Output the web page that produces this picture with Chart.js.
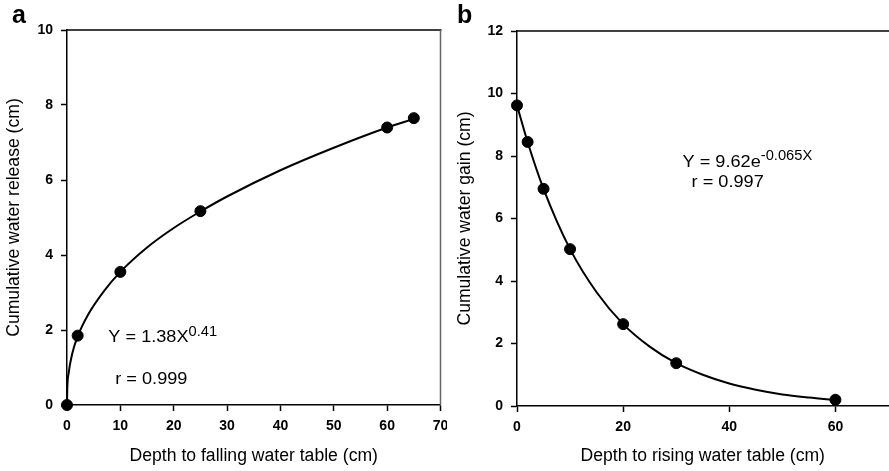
<!DOCTYPE html>
<html>
<head>
<meta charset="utf-8">
<script src="https://cdn.jsdelivr.net/npm/chart.js@4/dist/chart.umd.min.js"></script>
<style>
  html, body { margin: 0; padding: 0; background: #fff; overflow: hidden; width: 889px; height: 471px; }
  canvas { position: absolute; top: 0; }
  #chartA { left: 0; }
  #chartB { left: 445px; }
</style>
</head>
<body>
<canvas id="chartA" width="447" height="471"></canvas>
<canvas id="chartB" width="450" height="471"></canvas>
<script>
// panel a - falling water table
var depthFalling = [0, 2, 10, 25, 60, 65];
var waterRelease = [0, 1.85, 3.55, 5.17, 7.4, 7.65];
// fitted line
var fitFallingX = [0, 0.05, 0.3, 1, 2, 4, 7, 10, 15, 20, 25, 30, 40, 50, 60, 65];
var fitFallingY = [0, 0.42, 0.84, 1.38, 1.83, 2.42, 3.05, 3.55, 4.2, 4.72, 5.16, 5.56, 6.26, 6.86, 7.4, 7.63];

// panel b - rising water table
var depthRising = [0, 2, 5, 10, 20, 30, 60];
var waterGain = [9.62, 8.45, 6.95, 5.02, 2.62, 1.37, 0.2];
var fitRisingX = [0, 2, 5, 10, 15, 20, 25, 30, 35, 40, 45, 50, 55, 60];
var fitRisingY = [9.62, 8.45, 6.95, 5.02, 3.64, 2.62, 1.9, 1.37, 1.0, 0.72, 0.52, 0.37, 0.27, 0.19];

var xTicksA = [0, 10, 20, 30, 40, 50, 60, 70];
var yTicksA = [0, 2, 4, 6, 8, 10];
var xTicksB = [0, 20, 40, 60];
var yTicksB = [0, 2, 4, 6, 8, 10, 12];

var FONT = "'Liberation Sans', Arial, sans-serif";

function toPoints(xs, ys) {
    var out = [];
    for (var i = 0; i < xs.length; i++) out.push({x: xs[i], y: ys[i]});
    return out;
}

// text a bit wider than the font, like the scanned figure
function wideText(ctx, text, x, y, size, stretch) {
    ctx.save();
    ctx.font = size + 'px ' + FONT;
    ctx.translate(x, y);
    ctx.scale(stretch, 1);
    ctx.fillText(text, 0, 0);
    var w = ctx.measureText(text).width * stretch;
    ctx.restore();
    return w;
}

// draws the frame lines, the panel letter and the fit equation
var decorPlugin = {
    id: 'decor',
    afterDraw: function (chart, args, opts) {
        var ctx = chart.ctx;
        var area = chart.chartArea;
        var sx = chart.scales.x, sy = chart.scales.y;
        ctx.save();
        ctx.lineWidth = 1.5;
        ctx.strokeStyle = '#000';
        ctx.beginPath();
        ctx.moveTo(area.left, area.top);
        ctx.lineTo(area.right + 1, area.top);
        ctx.stroke();
        if (opts.rightBorder) {
            ctx.strokeStyle = '#666';
            ctx.beginPath();
            ctx.moveTo(area.right, area.top);
            ctx.lineTo(area.right, area.bottom);
            ctx.stroke();
        }
        ctx.fillStyle = '#000';
        ctx.font = 'bold 25px ' + FONT;
        ctx.textBaseline = 'alphabetic';
        ctx.fillText(opts.letter, 12, 23);

        ctx.textBaseline = 'middle';
        var ex = sx.getPixelForValue(opts.eqAt[0]);
        var ey = sy.getPixelForValue(opts.eqAt[1]);
        var w = wideText(ctx, opts.eqMain, ex, ey, 16.5, 1.1);
        wideText(ctx, opts.eqSup, ex + w, ey - 6, 14, 1.05);
        wideText(ctx, opts.rText, sx.getPixelForValue(opts.rAt[0]), sy.getPixelForValue(opts.rAt[1]), 16.5, 1.1);
        ctx.restore();
    }
};

function axisOpts(min, max, step, tickList, title, fitSize, titlePad, isX, showBounds) {
    return {
        type: 'linear',
        min: min,
        max: max,
        afterFit: function (scale) {
            if (isX) {
                scale.height = fitSize;
                scale.paddingRight = 0;
                scale.paddingLeft = 0;
            } else {
                scale.width = fitSize;
            }
        },
        afterBuildTicks: function (scale) {
            scale.ticks = tickList.map(function (v) { return {value: v}; });
        },
        grid: {
            drawOnChartArea: false,
            drawTicks: true,
            tickLength: 6,
            tickWidth: 1.5,
            tickColor: '#000'
        },
        border: { display: true, color: '#000', width: 1.5 },
        ticks: {
            stepSize: step,
            includeBounds: showBounds,
            color: '#000',
            padding: isX ? 7 : 8,
            maxRotation: 0,
            font: { family: FONT, size: 14, weight: 'bold' }
        },
        title: {
            display: true,
            text: title,
            color: '#000',
            padding: isX ? {top: 0, bottom: 4} : {top: titlePad, bottom: 0},
            font: { family: FONT, size: 17.6 }
        }
    };
}

function makeChart(id, pts, fit, scales, decor, padding) {
    return new Chart(document.getElementById(id), {
        type: 'scatter',
        data: {
            datasets: [{
                data: pts,
                backgroundColor: '#000',
                borderColor: '#000',
                pointRadius: 5.5,
                pointHoverRadius: 5.5,
                showLine: false,
                clip: false
            }, {
                data: fit,
                borderColor: '#000',
                borderWidth: 2,
                pointRadius: 0,
                showLine: true,
                cubicInterpolationMode: 'monotone',
                clip: false
            }]
        },
        options: {
            responsive: false,
            animation: false,
            layout: { padding: padding },
            plugins: {
                legend: { display: false },
                tooltip: { enabled: false },
                decor: decor
            },
            scales: scales
        },
        plugins: [decorPlugin]
    });
}

makeChart('chartA',
    toPoints(depthFalling, waterRelease),
    toPoints(fitFallingX, fitFallingY),
    {
        x: axisOpts(0, 70, 10, xTicksA, 'Depth to falling water table (cm)', 66, 0, true, true),
        y: axisOpts(0, 10, 2, yTicksA, 'Cumulative water release (cm)', 67, 4, false, true)
    },
    {
        letter: 'a', rightBorder: true,
        eqMain: 'Y = 1.38X', eqSup: '0.41',
        eqAt: [7.75, 1.79], rText: 'r = 0.999', rAt: [9.05, 0.67]
    },
    {top: 30, right: 3, left: 0, bottom: 0});

makeChart('chartB',
    toPoints(depthRising, waterGain),
    toPoints(fitRisingX, fitRisingY),
    {
        x: axisOpts(0, 70, 20, xTicksB, 'Depth to rising water table (cm)', 65, 0, true, false),
        y: axisOpts(0, 12, 2, yTicksB, 'Cumulative water gain (cm)', 72, 9.5, false, true)
    },
    {
        letter: 'b', rightBorder: false,
        eqMain: 'Y = 9.62e', eqSup: '-0.065X',
        eqAt: [31.2, 7.79], rText: 'r = 0.997', rAt: [32.9, 7.14]
    },
    {top: 31, right: 5, left: 0, bottom: 0});
</script>
</body>
</html>
